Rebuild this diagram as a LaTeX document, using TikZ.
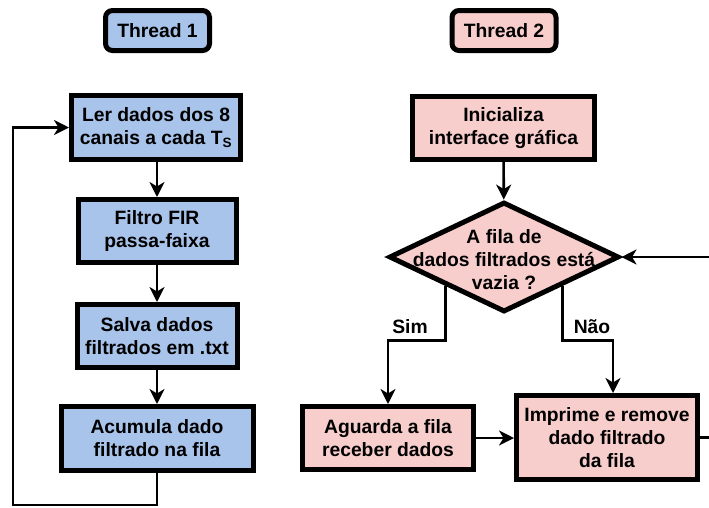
\documentclass[tikz,border=0pt]{standalone}
\usepackage{fontspec}
\setmainfont{Liberation Sans}
\usepackage{tikz}
\usetikzlibrary{positioning, shapes.geometric, arrows.meta}

\definecolor{azul}{HTML}{A9C4EB}
\definecolor{rosa}{HTML}{F8CECC}

\tikzset{
  bloco/.style={draw, line width=5pt, align=center, inner sep=0pt,
    font=\fontsize{19.3}{23}\selectfont\bfseries},
  titulo/.style={bloco, rounded corners=7pt, minimum width=104, minimum height=40},
  decisao/.style={bloco, diamond, fill=rosa, minimum width=230, minimum height=110},
  seta/.style={line width=2.6pt, -{Stealth[length=15pt, width=15pt, inset=4.5pt]}},
  linha/.style={line width=2.6pt},
  rotulo/.style={align=center, font=\fontsize{19.3}{23}\selectfont\bfseries}
}

\begin{document}
\begin{tikzpicture}[x=1pt, y=-1pt]
    \useasboundingbox (0,0) rectangle (709,507);

    % Draw thread titles
    \node[titulo, fill=azul] (t1) at (157.5,30.5) {Thread 1};
    \node[titulo, fill=rosa] (t2) at (504,30.5) {Thread 2};

    % Draw thread 1 blocks
    \node[bloco, fill=azul, minimum width=169, minimum height=64] (ler) at (156,127.5) {Ler dados dos 8\\canais a cada T\textsubscript{S}};
    \node[bloco, fill=azul, minimum width=158, minimum height=63] (filtro) at (157,231) {Filtro FIR\\passa-faixa};
    \node[bloco, fill=azul, minimum width=160, minimum height=63] (salva) at (157,336) {Salva dados\\filtrados em .txt};
    \node[bloco, fill=azul, minimum width=192, minimum height=64] (acum) at (157,438.5) {Acumula dado\\filtrado na fila};

    % Draw thread 2 blocks (the diamond text sits on top of the empty shape)
    \node[bloco, fill=rosa, minimum width=182, minimum height=63] (inicia) at (503.5,128) {Inicializa\\interface gráfica};
    \node[decisao] (vazia) at (504,257) {};
    \node[rotulo] (vaziatexto) at ([yshift=-3pt]vazia.center) {A fila de\\dados filtrados está\\vazia ?};
    \node[bloco, fill=rosa, minimum width=171, minimum height=63] (aguarda) at (388,438) {Aguarda a fila\\receber dados};
    \node[bloco, fill=rosa, minimum width=181, minimum height=84] (imprime) at (607,437.5) {Imprime e remove\\dado filtrado\\da fila};

    % Thread 1 chain
    \foreach \a/\b in {ler/filtro, filtro/salva, salva/acum} {
      \draw[seta] (\b.north |- \a.south) -- (\b.north);
    }

    % Thread 1 loop back
    \coordinate (voltab) at (13,505);
    \draw[seta] (acum.south) |- (voltab) |- (ler.west);

    % Thread 2 arrows
    \draw[seta] (inicia) -- (vazia);
    \draw[seta] (vazia.south west) -- ++(0,55) -| (aguarda.north);
    \draw[seta] (vazia.south east) -- ++(0,55) -| ([xshift=6pt]imprime.north);
    \draw[seta] (aguarda.east) -- (aguarda.east -| imprime.west);
    \node[rotulo] (sim) at (410,327) {Sim};
    \node[rotulo] (nao) at (592,327) {Não};

    % Thread 2 loop back (leaves the picture on the right)
    \coordinate (saida) at (709,437.5);
    \coordinate (entrada) at (709,257);
    \draw[linha] (imprime.east) -- (saida);
    \draw[seta] (entrada) -- (vazia.east);

\end{tikzpicture}
\end{document}
